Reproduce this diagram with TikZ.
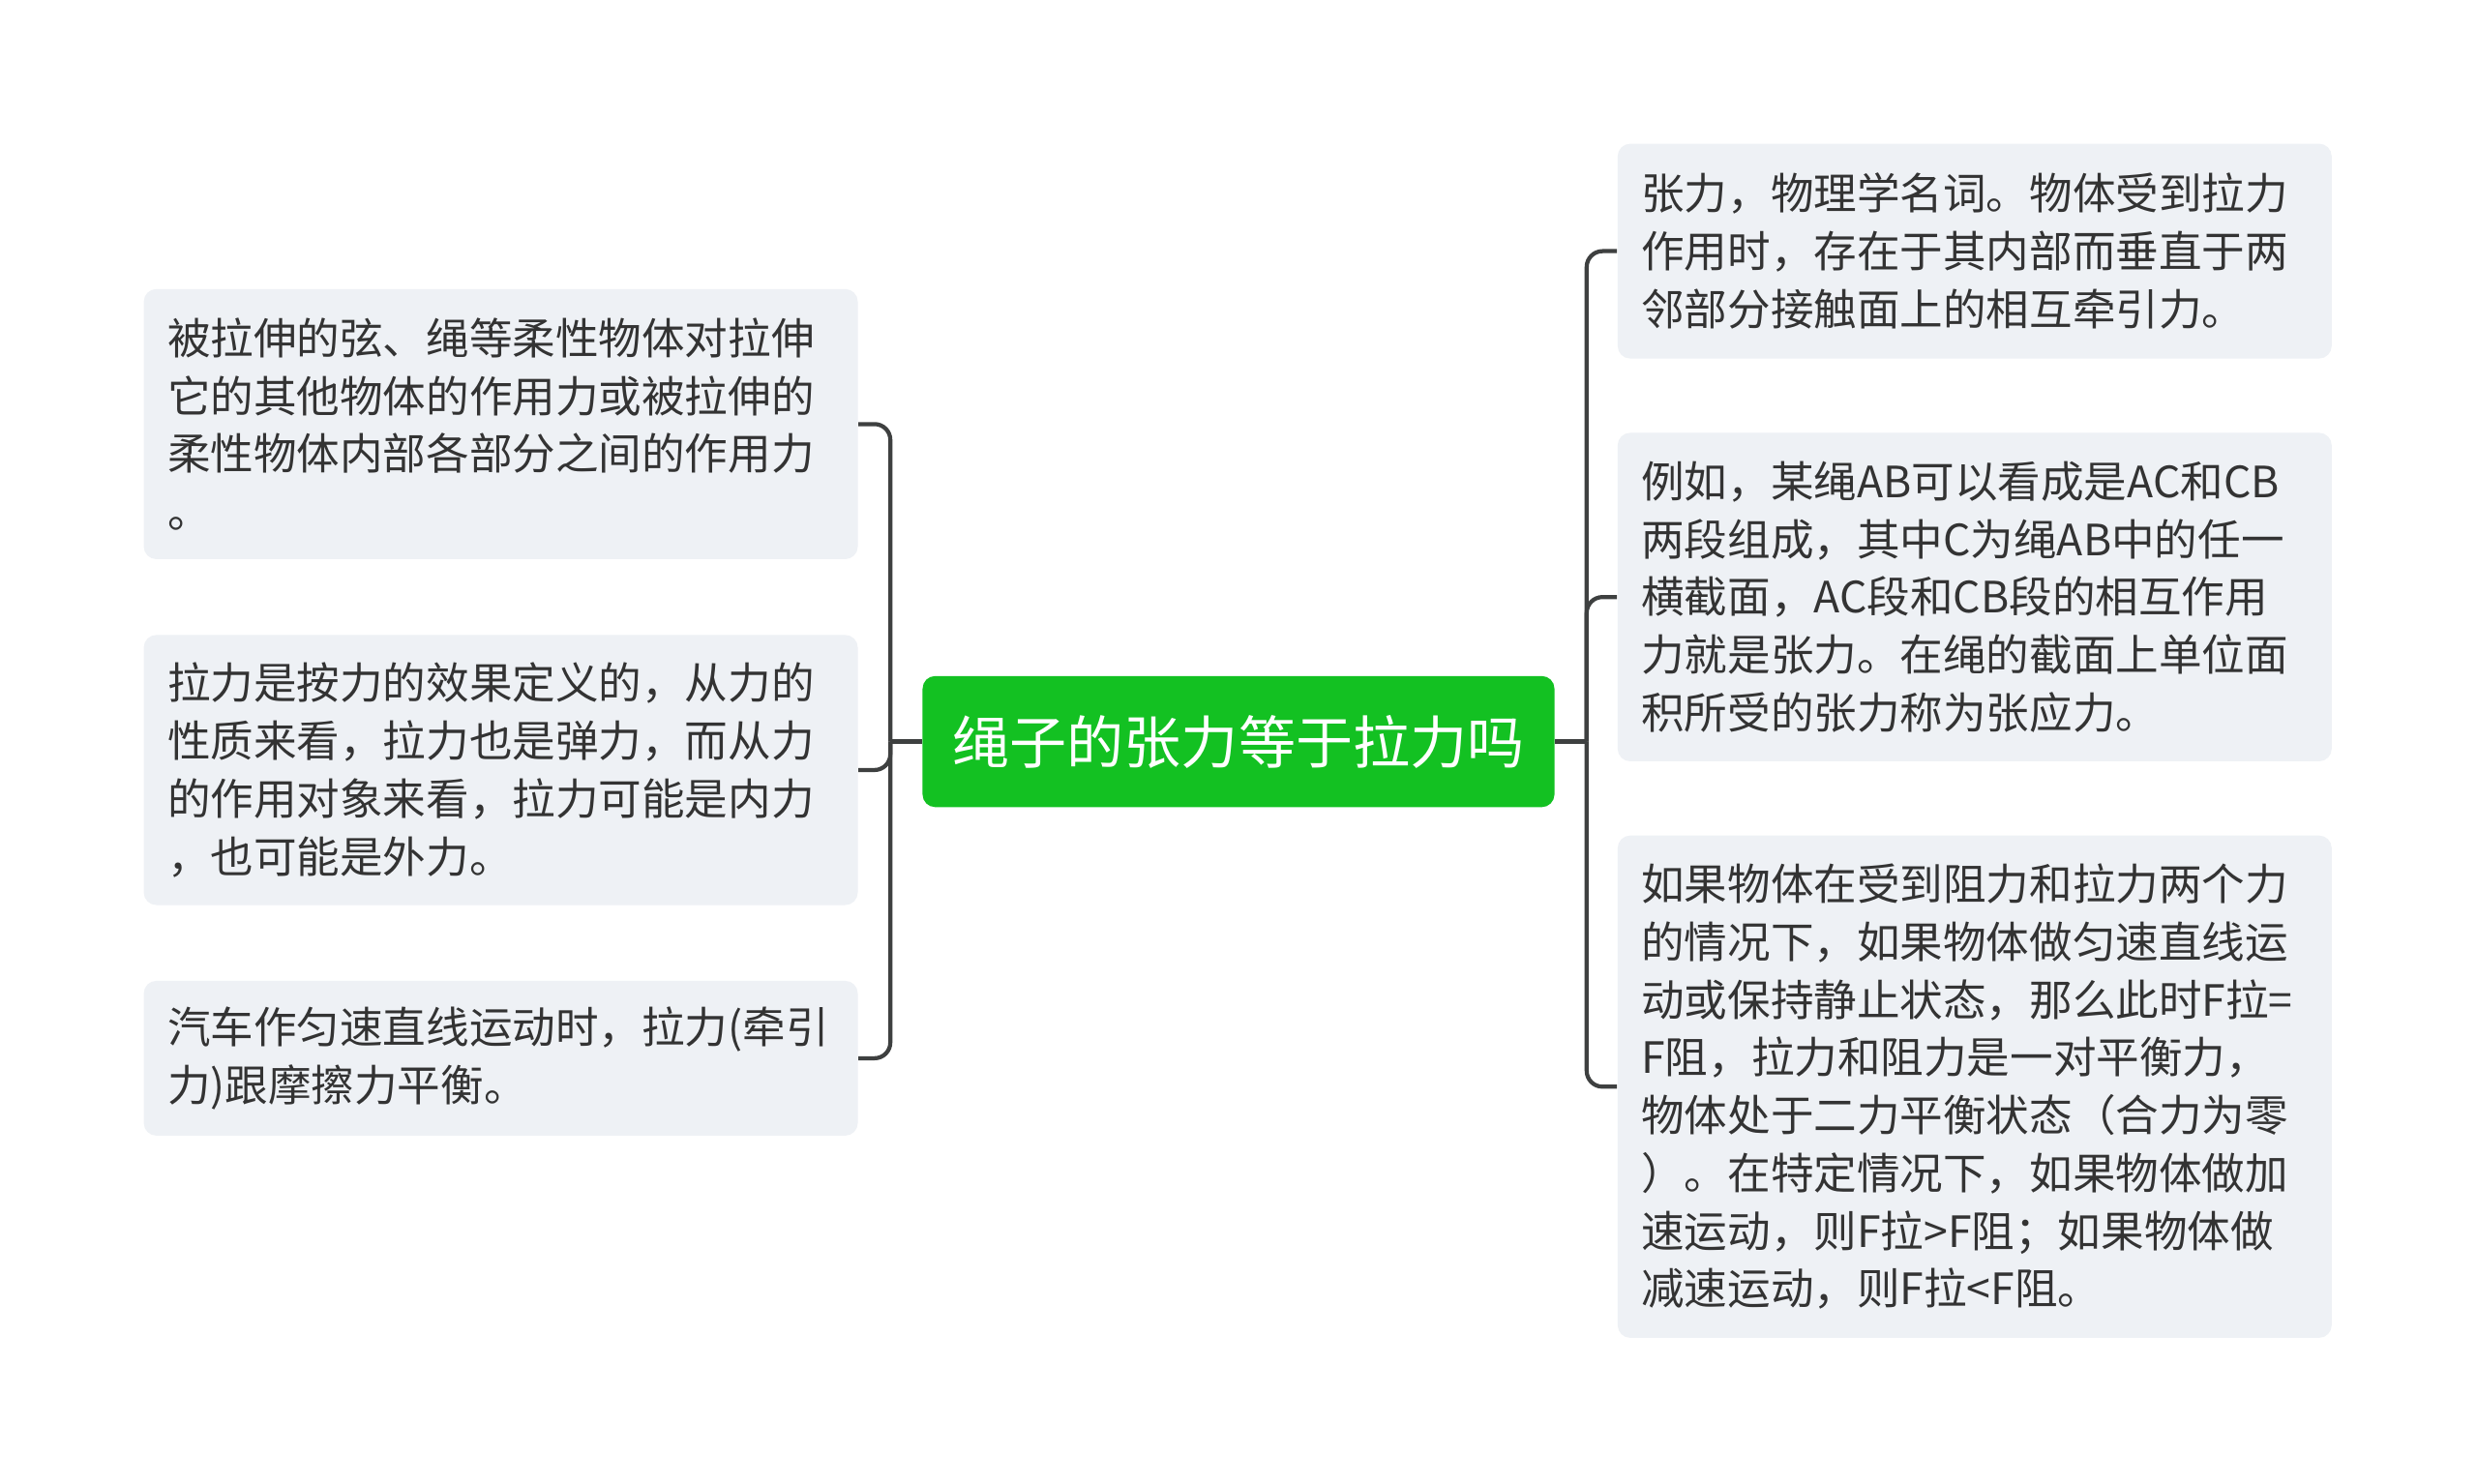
\documentclass[tikz,border=0pt]{standalone}
\usepackage{fontspec}
\setmainfont{Noto Sans CJK SC}
\definecolor{boxfill}{RGB}{238,241,245}
\definecolor{txt}{RGB}{51,51,51}
\definecolor{rootgreen}{RGB}{19,193,34}
\definecolor{lineclr}{RGB}{62,64,64}
\begin{document}
\begin{tikzpicture}[x=0.5pt,y=-0.5pt,
  leaf/.style={fill=boxfill, rounded corners=4pt, minimum width=226pt,
    text width=211pt, inner xsep=7.5pt, inner ysep=0pt, align=left,
    font=\fontsize{13.65pt}{18.3pt}\selectfont, text=txt},
  rootnode/.style={fill=rootgreen, rounded corners=4pt, minimum width=200pt,
    minimum height=41.5pt, inner sep=0pt, text=white,
    font=\fontsize{18.1pt}{22pt}\selectfont},
  conn/.style={draw=lineclr, line width=1.3pt, rounded corners=5pt}]
\fill[white] (0,0) rectangle (1568,939);
\useasboundingbox (0,0) rectangle (1568,939);

\node[rootnode] (c) at (784,469.5) {绳子的张力等于拉力吗};

\node[leaf, minimum height=85.5pt] (l1) at (317,268.5) {被拉伸的弦、绳等柔性物体对拉伸\\它的其他物体的作用力或被拉伸的\\柔性物体内部各部分之间的作用力\\。};
\node[leaf, minimum height=85.5pt] (l2) at (317,487.5) {拉力是按力的效果定义的，从力的\\性质来看，拉力也是弹力，而从力\\的作用对象来看，拉力可能是内力\\，也可能是外力。};
\node[leaf, minimum height=49pt] (l3) at (317,670) {汽车作匀速直线运动时，拉力(牵引\\力)跟摩擦力平衡。};

\node[leaf, minimum height=68pt] (r1) at (1250,159) {张力，物理学名词。物体受到拉力\\作用时，存在于其内部而垂直于两\\邻部分接触面上的相互牵引力。};
\node[leaf, minimum height=104pt] (r2) at (1250,378) {例如，某绳AB可以看成是AC和CB\\两段组成，其中C为绳AB中的任一\\横截面，AC段和CB段的相互作用\\力就是张力。在绳的截面上单位面\\积所受的张力称为张应力。};
\node[leaf, minimum height=159pt] (r3) at (1250,688) {如果物体在受到阻力和拉力两个力\\的情况下，如果物体做匀速直线运\\动或保持静止状态，那么此时F拉=\\F阻，拉力和阻力是一对平衡力，\\物体处于二力平衡状态（合力为零\\）。在特定情况下，如果物体做加\\速运动，则F拉>F阻；如果物体做\\减速运动，则F拉<F阻。};

\draw[conn] (c.west) -- ++(-20,0) coordinate (jl);
\draw[conn] (jl) |- (l1.east);
\draw[conn] (jl) |- (l2.east);
\draw[conn] (jl) |- (l3.east);

\draw[conn] (c.east) -- ++(20,0) coordinate (jr);
\draw[conn] (jr) |- (r1.west);
\draw[conn] (jr) |- (r2.west);
\draw[conn] (jr) |- (r3.west);
\end{tikzpicture}
\end{document}
